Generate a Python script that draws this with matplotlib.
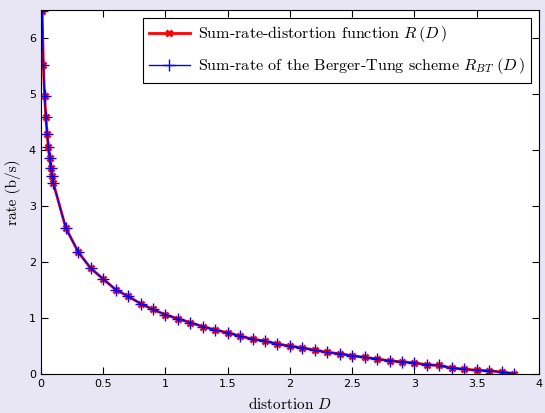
import numpy as np
import matplotlib
matplotlib.use('Agg')
import matplotlib.pyplot as plt

plt.rcParams['mathtext.fontset'] = 'cm'
plt.rcParams['axes.unicode_minus'] = False

# distortion values
D = [0.01, 0.02, 0.03, 0.04, 0.05, 0.06, 0.07, 0.08, 0.09, 0.10,
     0.2, 0.3, 0.4, 0.5, 0.6, 0.7, 0.8, 0.9, 1.0, 1.1, 1.2, 1.3, 1.4,
     1.5, 1.6, 1.7, 1.8, 1.9, 2.0, 2.1, 2.2, 2.3, 2.4, 2.5, 2.6, 2.7,
     2.8, 2.9, 3.0, 3.1, 3.2, 3.3, 3.4, 3.5, 3.6, 3.7, 3.8]

# sum-rate-distortion function R(D)
R = [6.48, 5.52, 4.96, 4.59, 4.29, 4.06, 3.86, 3.68, 3.54, 3.41,
     2.61, 2.18, 1.89, 1.70, 1.51, 1.39, 1.26, 1.155, 1.06, 0.99, 0.92, 0.85, 0.79,
     0.74, 0.68, 0.625, 0.59, 0.54, 0.50, 0.47, 0.43, 0.39, 0.365, 0.33, 0.30, 0.27,
     0.24, 0.22, 0.20, 0.17, 0.155, 0.11, 0.09, 0.07, 0.06, 0.04, 0.01]

# Berger-Tung sum-rate (coincides with R(D))
R_BT = list(R)

fig = plt.figure(figsize=(5.45, 4.13), dpi=100, facecolor='#e8e6f4')
ax = fig.add_axes([0.075, 0.094, 0.914, 0.882])

ax.plot(D, R, '-x', color='red', lw=2, ms=5, mew=2,
        label=r'Sum-rate-distortion function$\ R\,(D\,)$')
ax.plot(D, R_BT, '-+', color='blue', lw=1, ms=8, mew=1,
        label=r'Sum-rate of the Berger-Tung scheme$\ R_{BT}\ (D\,)$')

ax.set_xlim(0, 4)
ax.set_ylim(0, 6.5)
ax.set_xticks(np.arange(0, 4.01, 0.5))
ax.set_xticklabels(['0', '0.5', '1', '1.5', '2', '2.5', '3', '3.5', '4'])
ax.set_yticks(range(0, 7))
ax.tick_params(direction='in', top=True, right=True, labelsize=8, length=5)

ax.set_xlabel(r'distortion$\ D$', family='cmr10', fontsize=11, labelpad=5)
ax.set_ylabel('rate (b/s)', family='cmr10', fontsize=11, labelpad=6)

leg = ax.legend(loc='upper right', prop={'family': 'cmr10', 'size': 11.6},
                fancybox=False, edgecolor='black', framealpha=1,
                borderaxespad=0.5, handlelength=2.5, labelspacing=0.75,
                handletextpad=0.5)
leg.get_frame().set_linewidth(0.8)

fig.savefig('out.png', dpi=100, facecolor=fig.get_facecolor())
